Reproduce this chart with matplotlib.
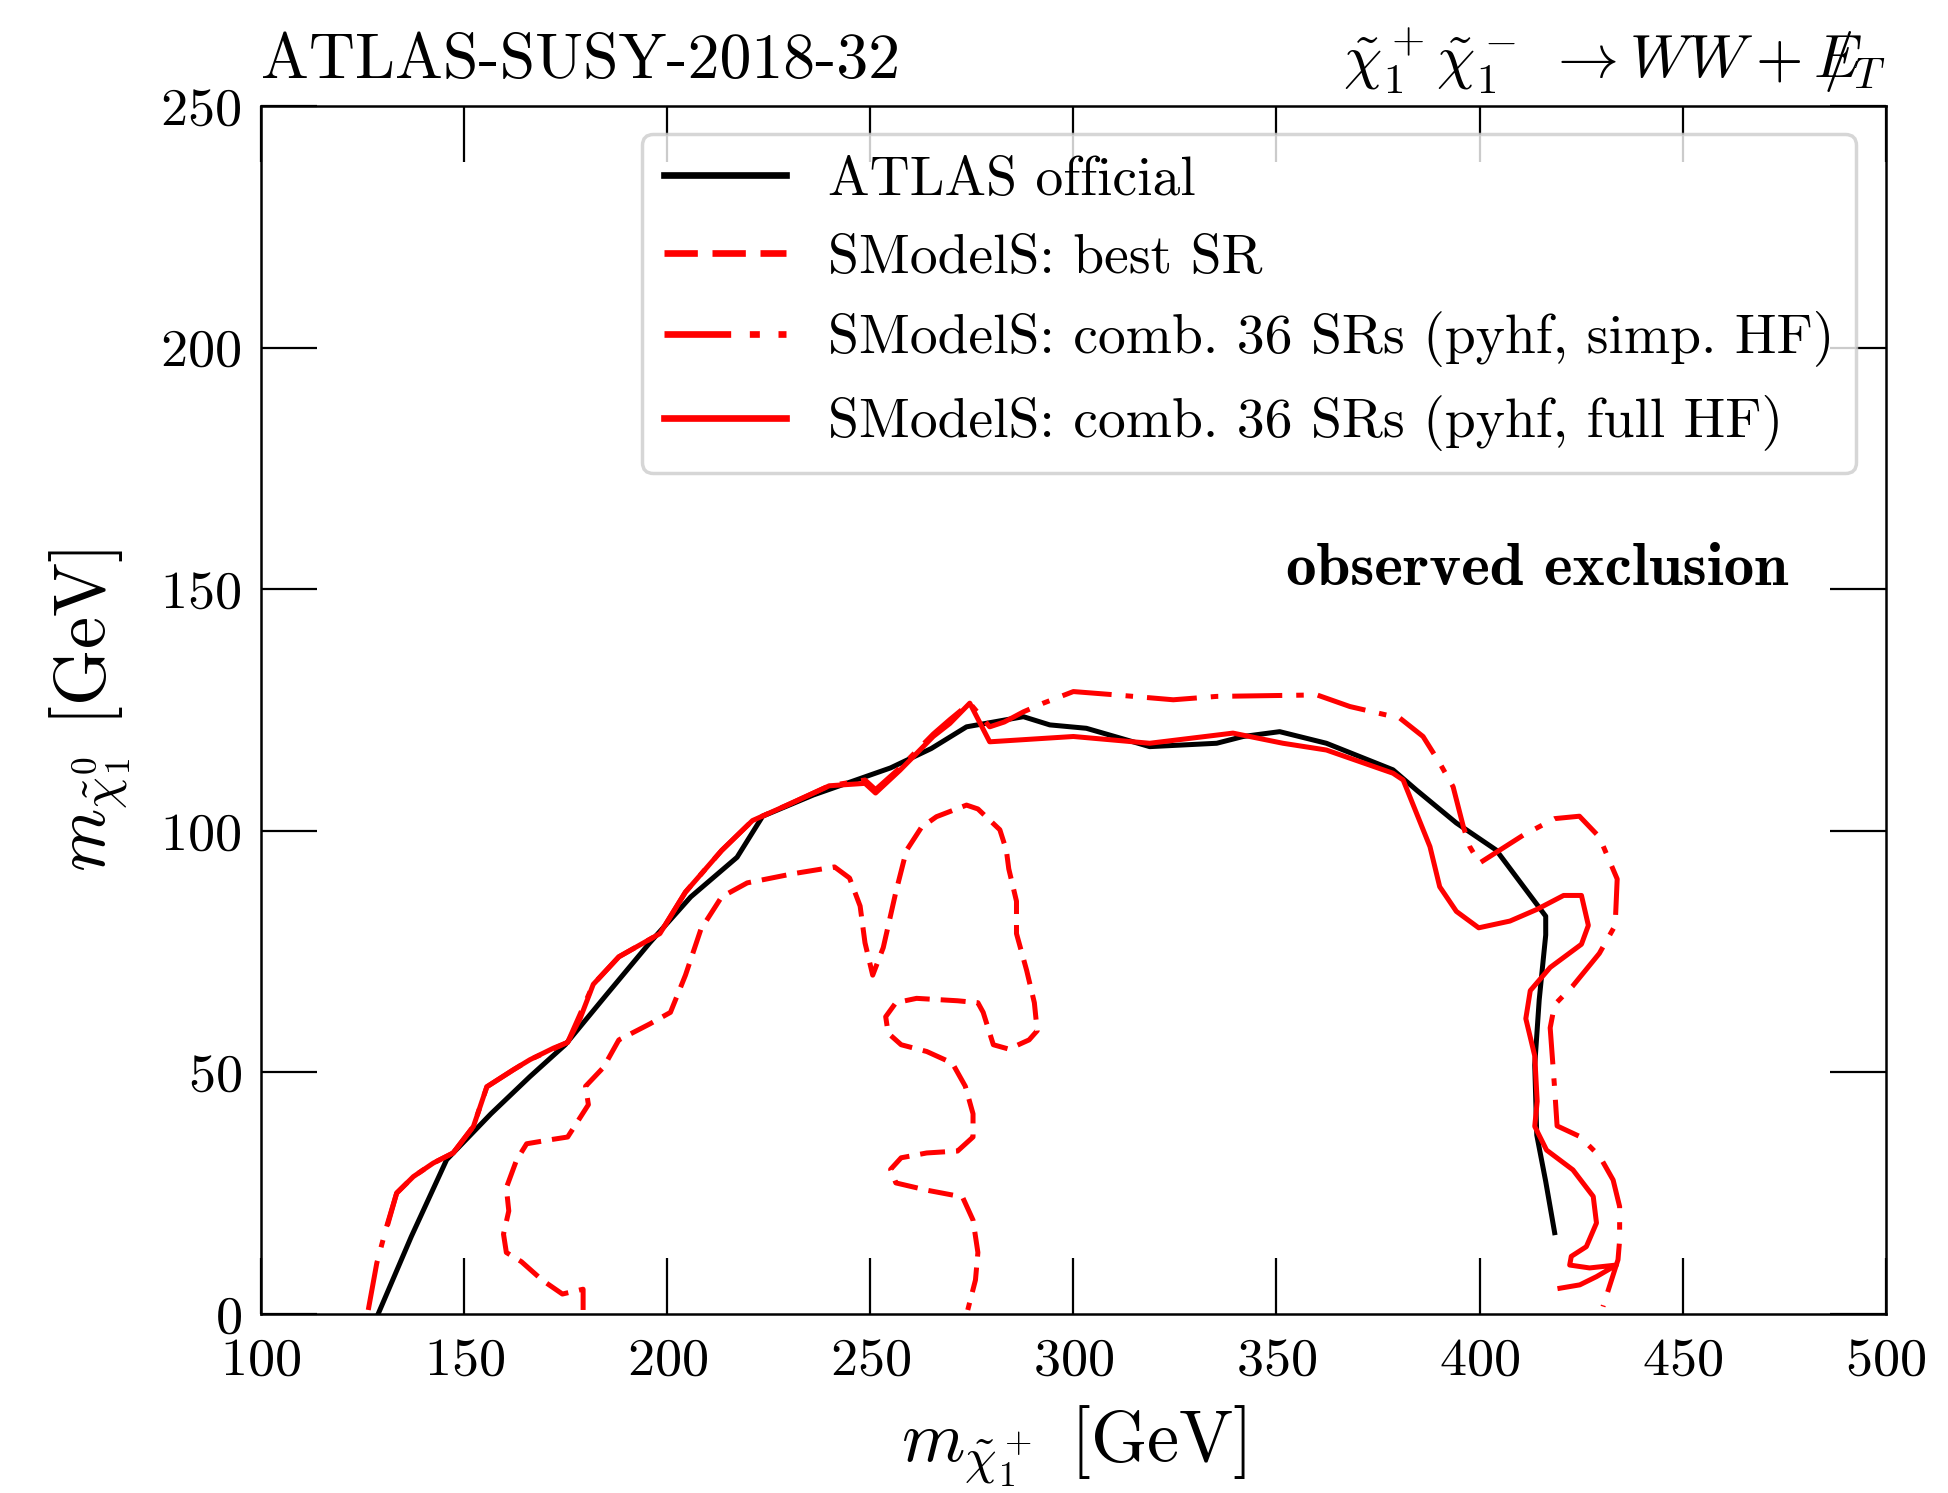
import matplotlib
matplotlib.use("Agg")
import matplotlib.pyplot as plt

# ---------------- data ----------------
atlas_x = [128.9, 137, 145.7, 156.6, 166.2, 174.9, 185, 195.7, 205.8, 217.2, 223.5, 236, 255, 265,
           273.7, 287.7, 294.2, 303.2, 318.8, 335.3, 341.8, 350.8, 362.3, 378.7, 384.5, 394.3, 404.1,
           416.3, 416.3, 414.7, 413.6, 414.1, 416.3, 418.5]
atlas_y = [0.1, 16, 31.9, 41.4, 49.1, 55.7, 66, 76.8, 86.3, 94.5, 103, 107.4, 113, 117,
           121.5, 123.6, 121.9, 121.2, 117.4, 118.1, 119.5, 120.5, 118.1, 112.6, 108.4, 101.6, 96,
           82.3, 78.4, 65, 51.5, 37, 27.4, 16.8]

best_x = [179.3, 179.3, 174.2, 169.2, 164.1, 160.4, 159.7, 161, 160.4, 162.9, 165.4, 171.7, 175.5,
          180.6, 179.9, 184.3, 188.1, 195.7, 200.8, 204.5, 208.3, 213.4, 219.7, 231, 241.2, 244.9,
          247.5, 248.7, 250.6, 253.2, 256.3, 258.9, 262.6, 266.3, 273.7, 276.5, 281.9, 283.5, 284.1,
          286, 286, 288.5, 290.4, 291.1, 289.1, 284.1, 280.3, 277.8, 276.5, 271.5, 261.4, 256.3,
          253.8, 254.4, 257.6, 263.9, 270.2, 273.4, 275.3, 275.3, 271.5, 263.9, 257.6, 255, 256.3,
          263.9, 272.7, 275.3, 276.5, 275.9, 274]
best_y = [0.8, 5.1, 4.1, 7, 10.8, 12.7, 16.5, 21.3, 26.1, 31.8, 35.2, 36.1, 36.6,
          43.3, 47.1, 51, 56.7, 60, 62.4, 70.1, 79.6, 86.3, 89.2, 91.1, 92.5, 90.2,
          84.4, 76.8, 70.1, 75.8, 87.3, 95.9, 100.7, 102.9, 105.3, 104.5, 100.2, 96, 92.1,
          85.4, 78.7, 71.1, 64.4, 58.6, 56.7, 54.8, 55.7, 62.4, 64.4, 64.8, 65.3, 64.4,
          61.5, 58.1, 55.7, 54.3, 51.9, 47.1, 41.4, 36.6, 33.7, 33.3, 32.3, 29.9, 27.1,
          25.6, 24.2, 19.4, 12.7, 7, 0.8]

simp_x = [126.4, 128.5, 130.9, 133.4, 137.5, 142.4, 147.3, 152.3, 155.6, 162.1, 166.2, 175.5, 181.8,
          188.1, 198.2, 204.5, 213.4, 221, 229.8, 239.9, 248.7, 251.3, 257.3, 265.5, 269.6, 274.5,
          279.4, 283, 287.7, 292.6, 300, 310.6, 324.6, 335.3, 360, 368.1, 380.4, 386.1, 390.2, 393.5,
          396, 397.6, 400, 410.8, 418.5, 424.6, 429.5, 433.9, 433.4, 429.5, 422.9, 418.5, 417.4,
          418.5, 419.1, 424.7, 429.6, 432.9, 434.5, 434.5, 434.1, 432.5, 430.4]
simp_y = [0.8, 10.5, 18, 25, 28.4, 31.2, 33.3, 38.8, 47, 50.5, 52.6, 56.2, 68.2,
          73.9, 78.7, 87.3, 95.9, 102.1, 105.4, 109.3, 110.5, 108.5, 113, 120, 123, 126.4,
          121.5, 122.5, 124.6, 126.4, 128.8, 128.1, 127.1, 127.8, 128.1, 125.7, 123.3, 119.5, 114, 109.1,
          100.9, 96.7, 93.3, 99.1, 102.5, 103, 98.7, 90, 80.4, 74.6, 67.8, 64, 59.2,
          46.6, 38.9, 36.7, 32.6, 27.7, 22.2, 15.3, 11.2, 7, 1.5]

full_x = [131.3, 133.4, 137.5, 142.4, 147.3, 152.3, 155.6, 162.1, 166.2, 172, 175.5, 178.5, 181.8,
          188.1, 198.2, 204.5, 213.4, 221, 229.8, 239.9, 248.7, 251.3, 257.3, 265.5, 269.6, 274.5,
          279.4, 300, 318.8, 339.3, 351.6, 362.3, 378.7, 381.2, 384.5, 387.8, 390.2, 394.3, 399.8,
          407.5, 414.1, 420.7, 425.1, 426.8, 425.1, 417.4, 412.5, 411.4, 413.6, 414.2, 413.6, 416.5,
          423, 428, 428.8, 426.3, 422.6, 422.2, 427.1, 433.7, 428.8, 424.7, 419.8]
full_y = [18.8, 25, 28.4, 31.2, 33.3, 38.8, 47, 50.5, 52.6, 55, 56.2, 61, 68.2,
          73.9, 78.7, 87.3, 95.9, 102.1, 105.4, 109.3, 109.8, 107.8, 112.5, 119.5, 122.2, 126.4,
          118.4, 119.5, 118.1, 120.2, 118.1, 116.7, 111.9, 110.5, 103.6, 96.7, 88.4, 83.3, 79.9,
          81.3, 83.7, 86.6, 86.6, 80.4, 76.5, 71.7, 66.9, 61.1, 53.4, 44, 38.8, 33.9,
          29.8, 24.3, 18.8, 13.9, 11.9, 10.1, 9.5, 10.1, 7.7, 6, 5.3]

labels = ["ATLAS official",
          "SModelS: best SR",
          "SModelS: comb. 36 SRs (pyhf, simp. HF)",
          "SModelS: comb. 36 SRs (pyhf, full HF)"]
x_ticks = [100, 150, 200, 250, 300, 350, 400, 450, 500]
y_ticks = [0, 50, 100, 150, 200, 250]

# ---------------- style ----------------
plt.rcParams.update({
    "font.family": "serif",
    "font.serif": ["cmr10"],
    "mathtext.fontset": "cm",
    "axes.unicode_minus": False,
    "axes.formatter.use_mathtext": True,
})

fig = plt.figure(figsize=(19.48, 14.93), dpi=100)
ax = fig.add_axes([0.134, 0.120, 0.834, 0.809])

lw = 3.6
ax.plot(atlas_x, atlas_y, color="black", lw=lw, label=labels[0], solid_joinstyle="round")
ax.plot(best_x, best_y, color="#ff0000", lw=lw, dashes=(5, 2.2), label=labels[1])
ax.plot(simp_x, simp_y, color="#ff0000", lw=lw, dashes=(10, 2.8, 1.5, 2.8), label=labels[2])
ax.plot(full_x, full_y, color="#ff0000", lw=lw, label=labels[3], solid_joinstyle="round")

ax.set_xlim(100, 500)
ax.set_ylim(0, 250)
ax.set_xticks(x_ticks)
ax.set_yticks(y_ticks)
ax.tick_params(axis="both", which="major", direction="in", length=40, width=1.6,
               top=True, right=True, labelsize=39)
ax.tick_params(axis="x", pad=17)
ax.tick_params(axis="y", pad=14)
for s in ax.spines.values():
    s.set_linewidth(1.8)

ax.set_xlabel(r"$m_{\tilde{\chi}_1^+}$ [GeV]", fontsize=52, labelpad=14)
ax.set_ylabel(r"$m_{\tilde{\chi}_1^0}$ [GeV]", fontsize=52, labelpad=20)

ax.set_title("ATLAS-SUSY-2018-32", loc="left", fontsize=46, pad=20)
ax.set_title(r"$\tilde{\chi}_1^+\tilde{\chi}_1^-\ \rightarrow WW + E\!\!\!\!/_T$",
             loc="right", fontsize=44, pad=20)

ax.text(476, 154, "observed exclusion", ha="right", va="center", fontsize=44,
        fontfamily="cmb10")

leg = ax.legend(loc="upper right", bbox_to_anchor=(0.982, 0.977), borderaxespad=0,
                fontsize=40, handlelength=2.2, handletextpad=0.75, labelspacing=0.5,
                frameon=True, fancybox=True, framealpha=0.8, edgecolor="0.8",
                borderpad=0.4)
leg.get_frame().set_linewidth(2.5)
for h in leg.get_lines():
    h.set_linewidth(4.8)

fig.savefig("out.png", dpi=100)
